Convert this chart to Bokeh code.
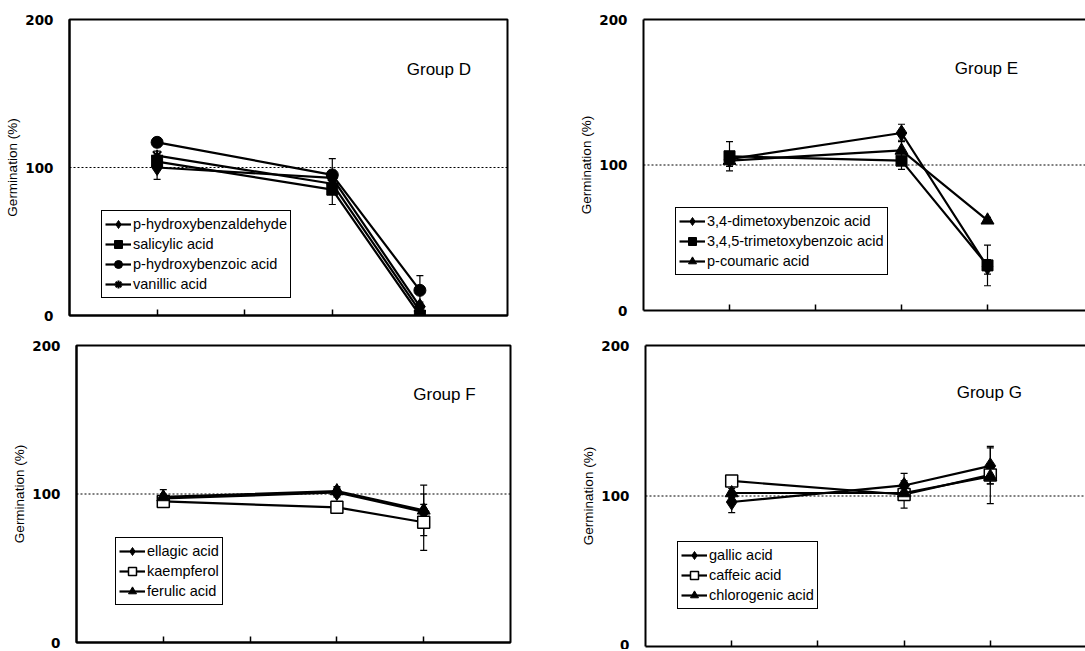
from bokeh.plotting import figure
from bokeh.models import (Range1d, FixedTicker, Span, Whisker, ColumnDataSource, Label,
                          LinearAxis, TeeHead, CustomJSTickFormatter)
from bokeh.layouts import column, row
from bokeh.embed import file_html
from bokeh.resources import INLINE

# ---------------- data ----------------
x_pos = [1, 3, 4]  # positions of the three treatments on the category axis
x_ticks = [1, 2, 3, 4]
y_ticks = [0, 100, 200]

# Group D
d_names = ["p-hydroxybenzaldehyde", "salicylic acid", "p-hydroxybenzoic acid", "vanillic acid"]
d_vals = [[100, 93, 6], [104, 85, 0], [117, 95, 17], [108, 89, 3]]
d_errs = [[8, 5, 3], [5, 10, 2], [3, 11, 10], [3, 4, 3]]
# Group E
e_names = ["3,4-dimetoxybenzoic acid", "3,4,5-trimetoxybenzoic acid", "p-coumaric acid"]
e_vals = [[104, 122, 30], [106, 103, 31], [103, 110, 62]]
e_errs = [[5, 6, 5], [10, 6, 14], [3, 7, 2]]
# Group F
f_names = ["ellagic acid", "kaempferol", "ferulic acid"]
f_vals = [[97, 101, 88], [95, 91, 81], [98, 102, 89]]
f_errs = [[3, 3, 5], [2, 2, 19], [5, 3, 17]]
# Group G
g_names = ["gallic acid", "caffeic acid", "chlorogenic acid"]
g_vals = [[96, 107, 120], [110, 101, 114], [102, 102, 113]]
g_errs = [[7, 8, 12], [2, 9, 19], [3, 4, 5]]

FONT = "Liberation Sans"
EMPTY = CustomJSTickFormatter(code="return ''")


def style_marker(p, kind, src, label):
    if kind == "diamond":
        p.scatter("x", "y", source=src, marker="diamond", size=16, fill_color="black",
                  line_color="black", legend_label=label)
    elif kind == "square":
        p.scatter("x", "y", source=src, marker="square", size=11, fill_color="black",
                  line_color="black", legend_label=label)
    elif kind == "circle":
        p.scatter("x", "y", source=src, marker="circle", size=12, fill_color="black",
                  line_color="black", legend_label=label)
    elif kind == "star":
        p.scatter("x", "y", source=src, marker="asterisk", size=12, line_color="black",
                  line_width=2, legend_label=label)
    elif kind == "open_square":
        p.scatter("x", "y", source=src, marker="square", size=12, fill_color="white",
                  line_color="black", line_width=1.5, legend_label=label)
    elif kind == "triangle":
        p.scatter("x", "y", source=src, marker="triangle", size=13, fill_color="black",
                  line_color="black", legend_label=label)


def panel(names, vals, errs, kinds, group, x_end, fw, fh, bl, bt, br, bb, open_right,
          leg_loc, grp_xy):
    p = figure(frame_width=fw, frame_height=fh, x_range=Range1d(0, x_end),
               y_range=Range1d(0, 200), min_border_left=bl, min_border_top=bt,
               min_border_right=br, min_border_bottom=bb, output_backend="svg",
               toolbar_location=None, background_fill_color="white",
               border_fill_color="white")
    p.xgrid.visible = False
    p.ygrid.visible = False

    # y axis
    ya = p.left[0]
    ya.ticker = FixedTicker(ticks=y_ticks)
    ya.axis_line_color = "black"
    ya.axis_line_width = 2
    ya.major_tick_line_color = None
    ya.minor_tick_line_color = None
    ya.major_label_standoff = 10
    ya.major_label_text_font = "DejaVu Sans"
    ya.major_label_text_font_style = "bold"
    ya.major_label_text_font_size = "13.5px"
    ya.major_label_text_color = "black"
    ya.axis_label = "Germination (%)"
    ya.axis_label_text_font = FONT
    ya.axis_label_text_font_style = "normal"
    ya.axis_label_text_font_size = "13.5px"
    ya.axis_label_standoff = 2
    ya.axis_label_text_color = "black"

    # x axis
    xa = p.below[0]
    xa.ticker = FixedTicker(ticks=x_ticks)
    xa.formatter = EMPTY
    xa.axis_line_color = "black"
    xa.axis_line_width = 2
    xa.major_tick_in = 6
    xa.major_tick_out = 0
    xa.major_tick_line_color = "black"
    xa.major_tick_line_width = 1.5
    xa.minor_tick_line_color = None
    xa.major_label_standoff = 0

    if open_right:
        p.outline_line_color = None
        top = LinearAxis(ticker=FixedTicker(ticks=[]), formatter=EMPTY,
                         axis_line_color="black", axis_line_width=2,
                         major_tick_line_color=None, minor_tick_line_color=None,
                         major_label_standoff=0)
        p.add_layout(top, "above")
    else:
        p.outline_line_color = "black"
        p.outline_line_width = 2
        p.outline_line_alpha = 1

    p.add_layout(Span(location=100, dimension="width", line_color="black",
                      line_dash="2 2", line_width=1))

    for name, v, e, k in zip(names, vals, errs, kinds):
        src = ColumnDataSource(dict(x=x_pos, y=v,
                                    lo=[a - b for a, b in zip(v, e)],
                                    hi=[a + b for a, b in zip(v, e)]))
        p.add_layout(Whisker(source=src, base="x", upper="hi", lower="lo",
                             line_color="black", line_width=1.2,
                             upper_head=TeeHead(size=7, line_color="black", line_width=1.2),
                             lower_head=TeeHead(size=7, line_color="black", line_width=1.2)))
        p.line("x", "y", source=src, line_color="black", line_width=2.2, legend_label=name)
        style_marker(p, k, src, name)

    lg = p.legend[0]
    lg.location = leg_loc
    lg.border_line_color = "black"
    lg.border_line_width = 1
    lg.border_line_alpha = 1
    lg.background_fill_color = "white"
    lg.background_fill_alpha = 1
    lg.label_text_font = FONT
    lg.label_text_font_size = "14.5px"
    lg.label_text_color = "black"
    lg.glyph_width = 26
    lg.glyph_height = 20
    lg.label_height = 20
    lg.label_standoff = 2
    lg.spacing = 0
    lg.padding = 3
    lg.margin = 0

    p.add_layout(Label(x=grp_xy[0], y=grp_xy[1], text=group, text_font=FONT,
                       text_font_size="17px", text_color="black",
                       text_baseline="middle", text_align="left"))
    return p


pD = panel(d_names, d_vals, d_errs, ["diamond", "square", "circle", "star"], "Group D",
           5, 438, 296, 69, 19, 33, 15, False, (32, 17), (3.85, 166))
pE = panel(e_names, e_vals, e_errs, ["diamond", "square", "triangle"], "Group E",
           442 / 86, 442, 291, 103, 19, 0, 20, True, (32, 35), (3.62, 166))
pF = panel(f_names, f_vals, f_errs, ["diamond", "open_square", "triangle"], "Group F",
           5, 434, 297, 76, 12, 30, 10, False, (39, 37), (3.88, 167))
pG = panel(g_names, g_vals, g_errs, ["diamond", "open_square", "triangle"], "Group G",
           440 / 86.2, 440, 301, 105, 15, 0, 3, True, (32, 37), (3.61, 169))

layout = column(row(pD, pE, spacing=0), row(pF, pG, spacing=0), spacing=0)
open("out.html", "w").write(file_html(layout, INLINE))
